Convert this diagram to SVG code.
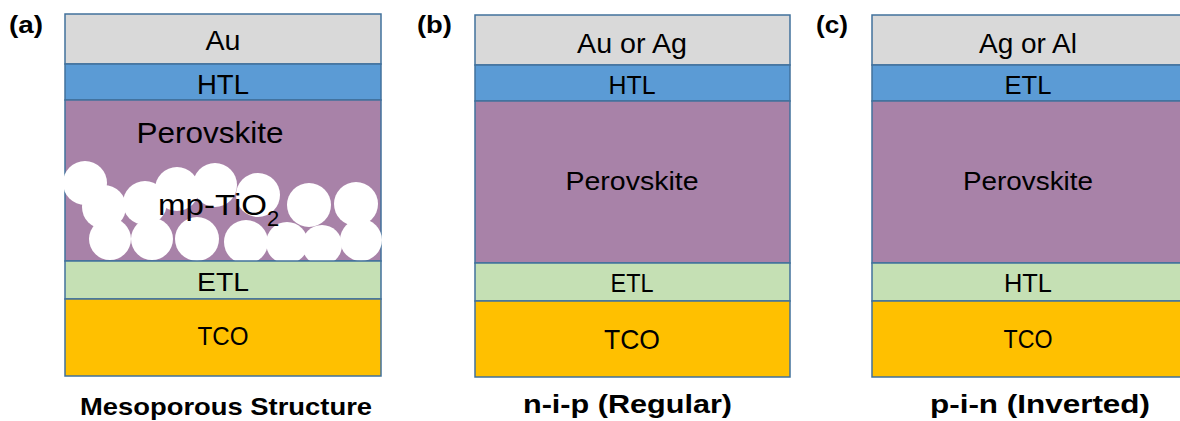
<svg xmlns="http://www.w3.org/2000/svg" width="1180" height="421" viewBox="0 0 1180 421">
<style>
.l{stroke:#41719C;stroke-width:1.5}
.au{fill:#D9D9D9}.htl{fill:#5B9BD5}.pv{fill:#A882A8}.etl{fill:#C5E0B4}.tco{fill:#FFC000}
.t{font-family:"Liberation Sans",Arial,sans-serif;fill:#000;text-anchor:middle}
.b{font-family:"Liberation Sans",Arial,sans-serif;font-weight:bold;fill:#000}
.c{fill:#fff}
</style>
<rect width="1180" height="421" fill="#fff"/>
<g id="panel-a">
  <text class="b" x="9" y="33" font-size="24" textLength="34" lengthAdjust="spacingAndGlyphs">(a)</text>
  <g id="a-au"><rect class="l au" x="65" y="14" width="316" height="50"/><text class="t" x="223" y="50" font-size="28" textLength="35" lengthAdjust="spacingAndGlyphs">Au</text></g>
  <g id="a-htl"><rect class="l htl" x="65" y="64" width="316" height="36"/><text class="t" x="223" y="94" font-size="28" textLength="52" lengthAdjust="spacingAndGlyphs">HTL</text></g>
  <g id="a-perovskite"><rect class="l pv" x="65" y="100" width="316" height="161"/><text class="t" x="210" y="143" font-size="30" textLength="147" lengthAdjust="spacingAndGlyphs">Perovskite</text></g>
  <g id="a-mp-tio2">
    <circle class="c" cx="85" cy="183" r="22"/>
    <circle class="c" cx="104" cy="207" r="22"/>
    <circle class="c" cx="110" cy="239" r="21"/>
    <circle class="c" cx="145" cy="203" r="22"/>
    <circle class="c" cx="152" cy="239" r="21"/>
    <circle class="c" cx="177" cy="189" r="22"/>
    <circle class="c" cx="197" cy="239" r="22"/>
    <circle class="c" cx="215" cy="185" r="22"/>
    <circle class="c" cx="246" cy="242" r="22"/>
    <circle class="c" cx="258" cy="195" r="22"/>
    <circle class="c" cx="287" cy="243" r="21"/>
    <circle class="c" cx="309" cy="205" r="22"/>
    <circle class="c" cx="322" cy="245" r="20"/>
    <circle class="c" cx="356" cy="204" r="22"/>
    <circle class="c" cx="361" cy="240" r="21"/>
    <text class="t" x="158" y="215" font-size="30" style="text-anchor:start" textLength="109" lengthAdjust="spacingAndGlyphs">mp-TiO</text>
    <text class="t" x="267" y="226" font-size="22" style="text-anchor:start">2</text>
  </g>
  <g id="a-etl"><rect class="l etl" x="65" y="261" width="316" height="38"/><text class="t" x="223" y="291" font-size="26" textLength="52" lengthAdjust="spacingAndGlyphs">ETL</text></g>
  <g id="a-tco"><rect class="l tco" x="65" y="299" width="316" height="77"/><text class="t" x="223" y="345" font-size="26" textLength="51" lengthAdjust="spacingAndGlyphs">TCO</text></g>
  <text class="b" x="80" y="415" font-size="24" textLength="292" lengthAdjust="spacingAndGlyphs">Mesoporous Structure</text>
</g>
<g id="panel-b">
  <text class="b" x="417" y="33" font-size="24" textLength="35" lengthAdjust="spacingAndGlyphs">(b)</text>
  <g id="b-metal"><rect class="l au" x="475" y="15" width="315" height="50"/><text class="t" x="632" y="53" font-size="27" textLength="110" lengthAdjust="spacingAndGlyphs">Au or Ag</text></g>
  <g id="b-htl"><rect class="l htl" x="475" y="65" width="315" height="36"/><text class="t" x="632" y="94" font-size="25" textLength="47" lengthAdjust="spacingAndGlyphs">HTL</text></g>
  <g id="b-perovskite"><rect class="l pv" x="475" y="101" width="315" height="162"/><text class="t" x="632" y="190" font-size="26" textLength="133" lengthAdjust="spacingAndGlyphs">Perovskite</text></g>
  <g id="b-etl"><rect class="l etl" x="475" y="263" width="315" height="38"/><text class="t" x="632" y="292" font-size="25" textLength="43" lengthAdjust="spacingAndGlyphs">ETL</text></g>
  <g id="b-tco"><rect class="l tco" x="475" y="301" width="315" height="76"/><text class="t" x="632" y="349" font-size="28" textLength="56" lengthAdjust="spacingAndGlyphs">TCO</text></g>
  <text class="b" x="523" y="413" font-size="26" textLength="209" lengthAdjust="spacingAndGlyphs">n-i-p (Regular)</text>
</g>
<g id="panel-c">
  <text class="b" x="816" y="33" font-size="24" textLength="32" lengthAdjust="spacingAndGlyphs">(c)</text>
  <g id="c-metal"><rect class="l au" x="872" y="15" width="313" height="50"/><text class="t" x="1028" y="53" font-size="27" textLength="98" lengthAdjust="spacingAndGlyphs">Ag or Al</text></g>
  <g id="c-etl"><rect class="l htl" x="872" y="65" width="313" height="36"/><text class="t" x="1028" y="94" font-size="25" textLength="47" lengthAdjust="spacingAndGlyphs">ETL</text></g>
  <g id="c-perovskite"><rect class="l pv" x="872" y="101" width="313" height="162"/><text class="t" x="1028" y="190" font-size="26" textLength="130" lengthAdjust="spacingAndGlyphs">Perovskite</text></g>
  <g id="c-htl"><rect class="l etl" x="872" y="263" width="313" height="38"/><text class="t" x="1028" y="292" font-size="25" textLength="48" lengthAdjust="spacingAndGlyphs">HTL</text></g>
  <g id="c-tco"><rect class="l tco" x="872" y="301" width="313" height="76"/><text class="t" x="1028" y="348" font-size="26" textLength="49" lengthAdjust="spacingAndGlyphs">TCO</text></g>
  <text class="b" x="930" y="413" font-size="26" textLength="220" lengthAdjust="spacingAndGlyphs">p-i-n (Inverted)</text>
</g>
</svg>
